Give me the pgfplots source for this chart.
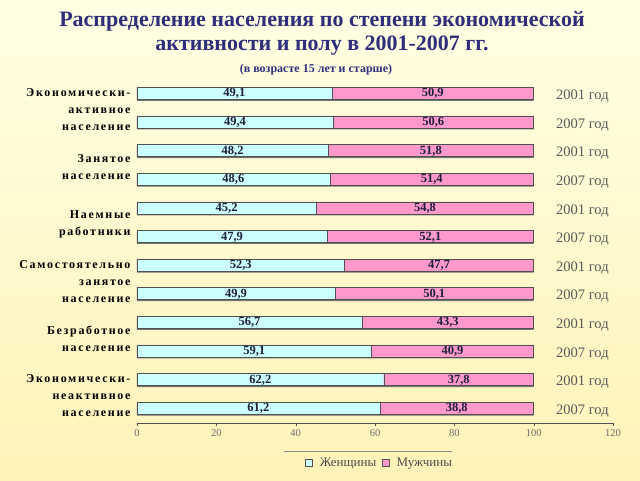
\documentclass[border=0pt]{standalone}
\usepackage{pgfplots}
\pgfplotsset{compat=1.18}
\usepackage{fontspec}
\setmainfont{Liberation Serif}
\newfontfamily\catfont[LetterSpace=14]{Liberation Serif}
\definecolor{bgtop}{RGB}{255,255,228}
\definecolor{bgbot}{RGB}{255,243,184}
\definecolor{titlec}{RGB}{46,46,122}
\definecolor{womenc}{RGB}{204,255,255}
\definecolor{menc}{RGB}{255,153,204}
\definecolor{edgec}{RGB}{80,80,80}
\definecolor{tickc}{RGB}{110,110,110}
\definecolor{labc}{RGB}{30,30,60}
\begin{document}
\begin{tikzpicture}
\shade[top color=bgtop,bottom color=bgbot] (0pt,0pt) rectangle (640pt,480pt);
\node[font=\bfseries\fontsize{22}{24}\selectfont, text=titlec, align=center] at (322pt,447pt) {Распределение населения по степени экономической\\активности и полу в 2001-2007 гг.};
\node[font=\bfseries\fontsize{12}{14}\selectfont, text=titlec] at (316pt,410pt) {(в возрасте 15 лет и старше)};
\draw[black!45, line width=0.8pt] (284pt,28.5pt) -- (452pt,28.5pt);
\begin{axis}[
  at={(137pt,57pt)}, anchor=south west, scale only axis,
  width=476pt, height=344pt,
  xmin=0, xmax=120, ymin=0.48, ymax=12.5,
  clip=false,
  axis x line*=bottom, axis y line*=left,
  y axis line style={draw=none},
  x axis line style={draw=edgec,-},
  xtick={0,20,...,120},
  xtick style={draw=edgec}, tick align=outside, major tick length=3pt,
  x tick label style={font=\fontsize{10.5}{12}\selectfont, text=tickc},
  /pgf/number format/assume math mode=true,
  ytick={1.5,3.5,5.5,7.5,9.5,11.5},
  ytick style={draw=none},
  yticklabels={{Экономически-\\неактивное\\население},{Безработное\\население},{Самостоятельно\\занятое\\население},{Наемные\\работники},{Занятое\\население},{Экономически-\\активное\\население}},
  y tick label style={align=right, font=\catfont\bfseries\fontsize{12}{17}\selectfont, text=black, yshift=-2pt},
  legend style={at={(0.51,-0.115)}, anchor=center, draw=none, fill=none, font=\fontsize{13}{15}\selectfont, text=black!70, /tikz/every even column/.append style={column sep=4pt}, /tikz/every odd column/.append style={column sep=5pt}},
  legend image code/.code={\draw[#1, draw=edgec] (0pt,-3.5pt) rectangle (7pt,3.5pt);},
  legend columns=2, reverse legend,
]
\addplot[xbar, bar width=12pt, bar shift=-1.5pt, fill=black!55, draw=none, forget plot] coordinates {(100,1)(100,2)(100,3)(100,4)(100,5)(100,6)(100,7)(100,8)(100,9)(100,10)(100,11)(100,12)};
\addplot[xbar, bar width=12pt, bar shift=0pt, fill=menc, draw=edgec] coordinates {(100,1)(100,2)(100,3)(100,4)(100,5)(100,6)(100,7)(100,8)(100,9)(100,10)(100,11)(100,12)};
\addlegendentry{Мужчины}
\addplot[xbar, bar width=12pt, bar shift=0pt, fill=womenc, draw=edgec] table {
x y
49.1 12
49.4 11
48.2 10
48.6 9
45.2 8
47.9 7
52.3 6
49.9 5
56.7 4
59.1 3
62.2 2
61.2 1
};
\addlegendentry{Женщины}
\addplot[only marks, mark=none, forget plot, nodes near coords, point meta=explicit symbolic, nodes near coords align=center, every node near coord/.style={font=\bfseries\fontsize{12.5}{13}\selectfont, text=labc, yshift=-0.5pt}] table[meta=lab] {
x y lab
24.55 12 49,1
74.55 12 50,9
24.70 11 49,4
74.70 11 50,6
24.10 10 48,2
74.10 10 51,8
24.30 9 48,6
74.30 9 51,4
22.60 8 45,2
72.60 8 54,8
23.95 7 47,9
73.95 7 52,1
26.15 6 52,3
76.15 6 47,7
24.95 5 49,9
74.95 5 50,1
28.35 4 56,7
78.35 4 43,3
29.55 3 59,1
79.55 3 40,9
31.10 2 62,2
81.10 2 37,8
30.60 1 61,2
80.60 1 38,8
};
\node[anchor=west, font=\fontsize{14.5}{16}\selectfont, text=black!65] at (axis cs:104.8,11.9) {2001 год};
\node[anchor=west, font=\fontsize{14.5}{16}\selectfont, text=black!65] at (axis cs:104.8,10.9) {2007 год};
\node[anchor=west, font=\fontsize{14.5}{16}\selectfont, text=black!65] at (axis cs:104.8,9.9) {2001 год};
\node[anchor=west, font=\fontsize{14.5}{16}\selectfont, text=black!65] at (axis cs:104.8,8.9) {2007 год};
\node[anchor=west, font=\fontsize{14.5}{16}\selectfont, text=black!65] at (axis cs:104.8,7.9) {2001 год};
\node[anchor=west, font=\fontsize{14.5}{16}\selectfont, text=black!65] at (axis cs:104.8,6.9) {2007 год};
\node[anchor=west, font=\fontsize{14.5}{16}\selectfont, text=black!65] at (axis cs:104.8,5.9) {2001 год};
\node[anchor=west, font=\fontsize{14.5}{16}\selectfont, text=black!65] at (axis cs:104.8,4.9) {2007 год};
\node[anchor=west, font=\fontsize{14.5}{16}\selectfont, text=black!65] at (axis cs:104.8,3.9) {2001 год};
\node[anchor=west, font=\fontsize{14.5}{16}\selectfont, text=black!65] at (axis cs:104.8,2.9) {2007 год};
\node[anchor=west, font=\fontsize{14.5}{16}\selectfont, text=black!65] at (axis cs:104.8,1.9) {2001 год};
\node[anchor=west, font=\fontsize{14.5}{16}\selectfont, text=black!65] at (axis cs:104.8,0.9) {2007 год};
\end{axis}
\end{tikzpicture}
\end{document}
